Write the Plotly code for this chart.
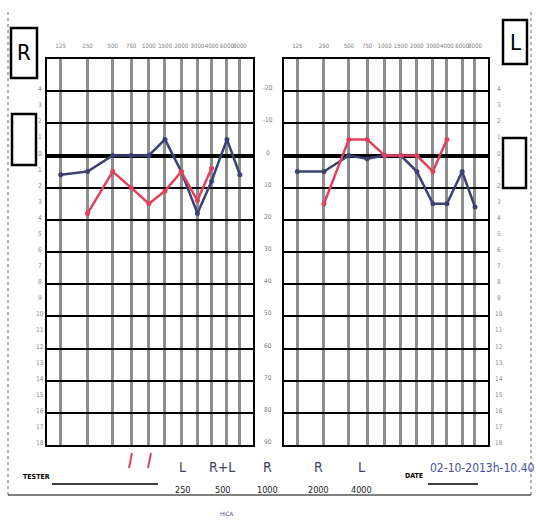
import plotly.graph_objects as go

W, H = 536, 520

# ---------------- data ----------------
freq_labels = ['125', '250', '500', '750', '1000', '1500', '2000', '3000', '4000', '6000', '8000']
# position of each frequency column on the form's own (non-log) frequency scale
freq_axis_pos = [0, 15, 29, 39.3, 49.2, 58.2, 67.3, 76.3, 84.2, 92.8, 100]

right_ear_blue = [6, 5, 0, 0, 0, -5, 5, 18, 8, -5, 6]
right_ear_red = [None, 18, 5, 10, 15, 11, 5, 14, 4, None, None]
left_ear_blue = [5, 5, 0, 1, 0, 0, 5, 15, 15, 5, 16]
left_ear_red = [None, 15, -5, -5, 0, 0, 0, 5, -5, None, None]

db_levels = [-20, -10, 0, 10, 20, 30, 40, 50, 60, 70, 80, 90]
db_labels = ['-20', '-10', '0', '10', '20', '30', '40', '50', '60', '70', '80', '90']
step_levels = list(range(-20, 95, 5))
step_labels = ['4', '3', '2', '1', '0', '1', '2', '3', '4', '5', '6', '7', '8', '9',
               '10', '11', '12', '13', '14', '15', '16', '17', '18']

bottom_marks = ['L', 'R+L', 'R', 'R', 'L']
bottom_freqs = ['250', '500', '1000', '2000', '4000']

BLUE = '#3c4072'
RED = '#e2415b'
NARROW = 'Liberation Sans Narrow, DejaVu Sans Condensed, Arial Narrow, sans-serif'


def px(x):
    return x / W


def py(y):
    return 1 - y / H


fig = go.Figure()

for vals, col, xa, ya in [(right_ear_blue, BLUE, 'x', 'y'), (right_ear_red, RED, 'x', 'y'),
                          (left_ear_blue, BLUE, 'x2', 'y2'), (left_ear_red, RED, 'x2', 'y2')]:
    fig.add_trace(go.Scatter(x=freq_axis_pos, y=vals, mode='lines+markers',
                             line=dict(color=col, width=2.5),
                             marker=dict(color=col, size=5, symbol='circle'),
                             connectgaps=False, xaxis=xa, yaxis=ya, hoverinfo='skip'))

xcommon = dict(range=[-7.5, 107.5], tickvals=freq_axis_pos, ticktext=freq_labels,
               side='top', ticks='outside', ticklen=7, tickcolor='rgba(0,0,0,0)', tickangle=0,
               tickfont=dict(size=6, color='#7a7a7a', family=NARROW),
               showgrid=True, gridcolor='#8e8e8e', gridwidth=2.5, zeroline=False,
               showline=True, linecolor='black', linewidth=2, mirror=True, fixedrange=True)
ycommon = dict(range=[90, -30], tickvals=db_levels, showticklabels=False, ticks='',
               showgrid=True, gridcolor='black', gridwidth=2,
               zeroline=True, zerolinecolor='black', zerolinewidth=3.5,
               showline=True, linecolor='black', linewidth=2, mirror=True, fixedrange=True)

fig.update_layout(
    width=W, height=H, margin=dict(l=0, r=0, t=0, b=0),
    paper_bgcolor='white', plot_bgcolor='white', showlegend=False,
    xaxis=dict(domain=[px(47.3), px(253.3)], anchor='y', **xcommon),
    xaxis2=dict(domain=[px(284), px(488.3)], anchor='y2', **xcommon),
    yaxis=dict(domain=[py(445), py(59)], anchor='x', **ycommon),
    yaxis2=dict(domain=[py(445), py(59)], anchor='x2', **ycommon),
)

ann = []


def note(x, y, text, size, color, yref='paper', xanchor='center', yshift=0):
    ann.append(dict(x=px(x), y=(py(y) if yref == 'paper' else y), xref='paper', yref=yref,
                    text=text, showarrow=False, xanchor=xanchor, yanchor='middle',
                    yshift=yshift, font=dict(size=size, color=color, family=NARROW)))


# centre dB labels
for v, t in zip(db_levels, db_labels):
    note(268, v, t, 6.5, '#7a7a7a', yref='y', yshift=3)
# side step labels
for v, t in zip(step_levels, step_labels):
    note(40, v, t, 6.5, '#8a8a8a', yref='y', yshift=2)
    note(499, v, t, 6.5, '#8a8a8a', yref='y2', yshift=2)

# ear boxes
note(24, 53, 'R', 22, 'black')
note(515, 42, 'L', 22, 'black')

# bottom texts
note(36, 477, '<b>TESTER</b>', 7, 'black')
note(414, 476, '<b>DATE</b>', 7, 'black')
mark_x = [182, 222, 267, 318, 361]
for xx, m, f in zip(mark_x, bottom_marks, bottom_freqs):
    note(xx, 467, m, 14, '#3c3f66')
    note(xx, 490, f, 9, '#222')
note(428, 468, '02-10-2013h-10.40', 12, '#3f4fa0', xanchor='left')
note(226, 513, 'HICA', 6, '#4a4f80')

fig.update_layout(annotations=ann)

shapes = []
# boxes
for x0, y0, x1, y1 in [(11, 28, 37, 78), (12, 114, 36, 165), (503, 20, 527, 64), (503, 138, 526, 188)]:
    shapes.append(dict(type='rect', xref='paper', yref='paper', x0=px(x0), x1=px(x1),
                       y0=py(y1), y1=py(y0), line=dict(color='black', width=2.5)))
# underlines
shapes.append(dict(type='line', xref='paper', yref='paper', x0=px(52), x1=px(158),
                   y0=py(484), y1=py(484), line=dict(color='black', width=1.5)))
shapes.append(dict(type='line', xref='paper', yref='paper', x0=px(428), x1=px(478),
                   y0=py(484), y1=py(484), line=dict(color='black', width=1.5)))
# red tally strokes
for xb in [129, 148]:
    shapes.append(dict(type='line', xref='paper', yref='paper', x0=px(xb), x1=px(xb + 3),
                       y0=py(468), y1=py(453), line=dict(color=RED, width=2)))
# page border of the scan
shapes.append(dict(type='line', xref='paper', yref='paper', x0=px(8), x1=px(8),
                   y0=py(12), y1=py(495), line=dict(color='#9a9a9a', width=1.5, dash='dot')))
shapes.append(dict(type='line', xref='paper', yref='paper', x0=px(531), x1=px(531),
                   y0=py(12), y1=py(495), line=dict(color='#9a9a9a', width=1.5, dash='dot')))
shapes.append(dict(type='line', xref='paper', yref='paper', x0=px(8), x1=px(531),
                   y0=py(495), y1=py(495), line=dict(color='#555', width=1.5)))
fig.update_layout(shapes=shapes)

fig.write_html('out.html', config={'displayModeBar': False},
               post_script="document.body.style.margin='0';")
